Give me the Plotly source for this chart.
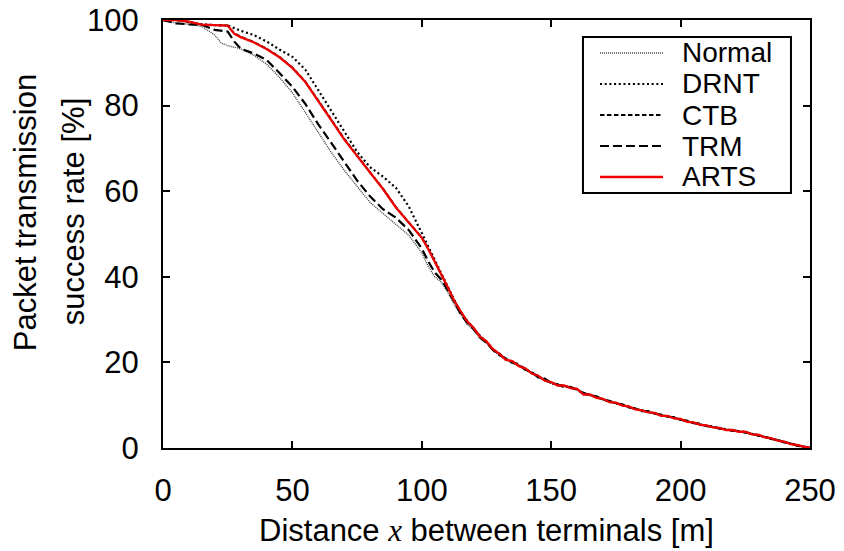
import plotly.graph_objects as go

X = [0, 5, 10, 15, 20, 22.5, 25, 27.5, 30, 35, 40, 45, 50, 55, 60, 65, 70, 75, 80, 85, 90, 95, 100,
     102.5, 105, 107.5, 110, 112.5, 115, 117.5, 120, 122.5, 125, 127.5, 130, 132.5, 135, 137.5, 140,
     142.5, 145, 147.5, 150, 152.5, 155, 157.5, 160, 162.5, 165, 167.5, 170, 172.5, 175, 177.5, 180,
     182.5, 185, 187.5, 190, 192.5, 195, 197.5, 200, 202.5, 205, 207.5, 210, 212.5, 215, 217.5, 220,
     222.5, 225, 227.5, 230, 232.5, 235, 237.5, 240, 242.5, 245, 247.5, 250]

normal = [100, 99.3, 99.0, 98.5, 96.5, 94.6, 94.0, 93.6, 93.3, 91.8, 89.7, 86.6, 83.0, 78.4, 73.6, 69.1, 64.9, 61.1, 57.4, 54.8, 52.3, 49.7, 45.6,
          42.4, 40.0, 38.8, 36.4, 33.6, 31.2, 28.9, 27.6, 25.6, 24.5, 22.8, 21.6, 20.9, 19.8, 19.4, 18.2,
          17.6, 16.6, 15.9, 15.1, 14.8, 14.3, 14.2, 13.6, 12.9, 12.2, 12.0, 11.2, 10.9, 10.4, 10.1, 9.5,
          9.1, 8.6, 8.5, 8.0, 7.7, 7.3, 7.1, 6.6, 6.3, 5.8, 5.6, 5.1, 5.0, 4.5, 4.4, 4.0,
          3.9, 3.6, 3.3, 2.9, 2.6, 2.1, 1.8, 1.3, 1.0, 0.5, 0.3, 0.0]

drnt = [100, 100, 99.5, 99.0, 98.8, 98.8, 98.7, 98.1, 97.5, 96.5, 95.0, 93.1, 91.4, 88.4, 83.6, 78.8, 74.0, 69.2, 65.6, 63.4, 60.8, 56.4, 50.2,
        47.0, 44.0, 40.9, 37.6, 34.6, 31.7, 29.7, 28.0, 26.2, 24.8, 23.1, 21.8, 20.8, 20.1, 19.3, 18.4,
        17.6, 16.8, 15.8, 15.3, 14.7, 14.5, 14.1, 13.7, 12.7, 12.4, 11.8, 11.4, 10.8, 10.5, 10.0, 9.6,
        9.1, 8.7, 8.4, 8.1, 7.6, 7.4, 7.0, 6.7, 6.2, 5.9, 5.5, 5.2, 4.9, 4.6, 4.3, 4.1,
        3.9, 3.7, 3.3, 3.0, 2.6, 2.2, 1.8, 1.4, 1.0, 0.6, 0.3, 0.0]

ctb = [100, 100, 99.6, 98.9, 98.8, 98.7, 98.7, 96.9, 96.1, 94.9, 93.3, 91.4, 88.9, 85.6, 81.3, 76.8, 72.3, 68.3, 64.4, 60.6, 56.3, 52.7, 49.2,
       46.6, 43.5, 40.7, 37.5, 34.5, 31.8, 29.7, 28.0, 26.1, 24.8, 23.0, 22.1, 20.7, 20.2, 19.2, 18.5,
       17.5, 16.8, 15.8, 15.3, 14.7, 14.5, 14.1, 13.7, 12.6, 12.4, 11.8, 11.4, 10.8, 10.5, 10.0, 9.6,
       9.1, 8.7, 8.4, 8.1, 7.6, 7.4, 7.0, 6.7, 6.2, 5.9, 5.5, 5.2, 4.9, 4.6, 4.3, 4.1,
       3.9, 3.7, 3.3, 3.0, 2.6, 2.2, 1.8, 1.4, 1.0, 0.6, 0.3, 0.0]

trm = [100, 99.2, 99.0, 98.9, 97.7, 97.5, 97.3, 95.0, 93.3, 92.2, 90.7, 87.6, 84.4, 80.4, 75.6, 71.3, 66.8, 62.5, 58.8, 55.8, 53.8, 50.9, 46.6,
       43.6, 41.0, 39.4, 36.9, 34.0, 31.4, 29.3, 27.8, 25.8, 24.6, 22.9, 21.7, 20.9, 19.9, 19.6, 18.3,
       17.7, 16.5, 16.2, 15.2, 14.9, 14.2, 14.3, 13.5, 12.9, 12.3, 12.1, 11.3, 11.0, 10.4, 10.2, 9.5,
       9.2, 8.6, 8.6, 8.0, 7.8, 7.3, 7.2, 6.6, 6.4, 5.8, 5.7, 5.1, 5.0, 4.5, 4.4, 4.0,
       4.0, 3.6, 3.4, 2.9, 2.7, 2.1, 1.9, 1.3, 1.1, 0.5, 0.4, 0.0]

arts = [100, 100, 99.6, 98.9, 98.8, 98.7, 98.7, 96.8, 96.0, 94.8, 93.2, 91.3, 88.8, 85.5, 81.2, 76.6, 72.1, 68.2, 64.3, 60.5, 56.2, 52.6, 49.1,
        46.5, 43.6, 40.6, 37.6, 34.4, 31.9, 29.6, 28.1, 26.0, 24.9, 23.1, 22.0, 20.6, 20.3, 19.1, 18.6,
        17.4, 16.9, 15.7, 15.4, 14.6, 14.6, 14.0, 13.8, 12.5, 12.5, 11.7, 11.5, 10.7, 10.6, 9.9, 9.7,
        9.0, 8.8, 8.3, 8.2, 7.5, 7.5, 6.9, 6.8, 6.1, 6.0, 5.4, 5.3, 4.8, 4.7, 4.2, 4.2,
        3.8, 3.8, 3.2, 3.1, 2.5, 2.3, 1.7, 1.5, 0.9, 0.7, 0.3, 0.1]

series_names = ["Normal", "DRNT", "CTB", "TRM", "ARTS"]
series_values = [normal, drnt, ctb, trm, arts]
series_lines = [
    dict(color="#444444", width=1.4, dash="1px,1px"),
    dict(color="black", width=2.2, dash="2px,2.7px"),
    dict(color="black", width=1.9, dash="4.5px,2.5px"),
    dict(color="black", width=2.2, dash="9px,4px"),
    dict(color="#ee0000", width=2.3),
]

x_ticks = [0, 50, 100, 150, 200, 250]
y_ticks = [0, 20, 40, 60, 80, 100]

FONT = "Liberation Sans, Arial, Helvetica, sans-serif"
TICK_SIZE = 31
TITLE_SIZE = 31
LEGEND_SIZE = 28

fig = go.Figure()
for name, vals, ln in zip(series_names, series_values, series_lines):
    fig.add_trace(go.Scatter(x=X, y=vals, name=name, mode="lines", line=ln, showlegend=False))

axis_common = dict(showline=True, linecolor="black", linewidth=2, mirror="ticks",
                   ticks="inside", ticklen=7, tickwidth=2, tickcolor="black",
                   showgrid=False, zeroline=False, automargin=False,
                   ticklabeloverflow="allow",
                   tickfont=dict(family=FONT, size=TICK_SIZE, color="black"))

# Legend (drawn as a boxed key in the upper right, as in the original)
leg_x0, leg_x1, leg_y0, leg_y1 = 0.6491, 0.9706, 0.5958, 0.9603
row_y = [0.9229, 0.8505, 0.7780, 0.7056, 0.6332]
line_x0, line_x1, text_x = 0.6754, 0.7728, 0.7991

shapes = [dict(type="rect", xref="paper", yref="paper", x0=leg_x0, x1=leg_x1, y0=leg_y0, y1=leg_y1,
               line=dict(color="black", width=2), fillcolor="white", layer="above")]
annotations = []
for name, ln, ry in zip(series_names, series_lines, row_y):
    shapes.append(dict(type="line", xref="paper", yref="paper", x0=line_x0, x1=line_x1, y0=ry, y1=ry,
                       line=ln, layer="above"))
    annotations.append(dict(text=name, xref="paper", yref="paper", x=text_x, y=ry,
                            xanchor="left", yanchor="middle", showarrow=False,
                            font=dict(family=FONT, size=LEGEND_SIZE, color="black")))

# Axis titles
annotations.append(dict(text="Distance <span style=\"font-family:'Liberation Serif',serif;font-style:italic\">x</span> between terminals [m]",
                        xref="paper", yref="paper", x=0.5, y=-0.1916, xanchor="center", yanchor="middle",
                        showarrow=False, font=dict(family=FONT, size=TITLE_SIZE, color="black")))
annotations.append(dict(text="Packet transmission", xref="paper", yref="paper", x=-0.2133, y=0.551,
                        xanchor="center", yanchor="middle", textangle=-90, showarrow=False,
                        font=dict(family=FONT, size=TITLE_SIZE, color="black")))
annotations.append(dict(text="success rate [%]", xref="paper", yref="paper", x=-0.1391, y=0.551,
                        xanchor="center", yanchor="middle", textangle=-90, showarrow=False,
                        font=dict(family=FONT, size=TITLE_SIZE, color="black")))

fig.update_layout(
    width=836, height=543,
    margin=dict(l=155, r=34, t=12, b=103, autoexpand=False),
    paper_bgcolor="white", plot_bgcolor="white",
    font=dict(family=FONT, size=TICK_SIZE, color="black"),
    xaxis=dict(range=[0, 250], tickvals=x_ticks, ticklabelstandoff=14, **axis_common),
    yaxis=dict(range=[0, 100], tickvals=y_ticks, ticklabelstandoff=16, **axis_common),
    shapes=shapes,
    annotations=annotations,
    showlegend=False,
)

fig.write_html("out.html")
